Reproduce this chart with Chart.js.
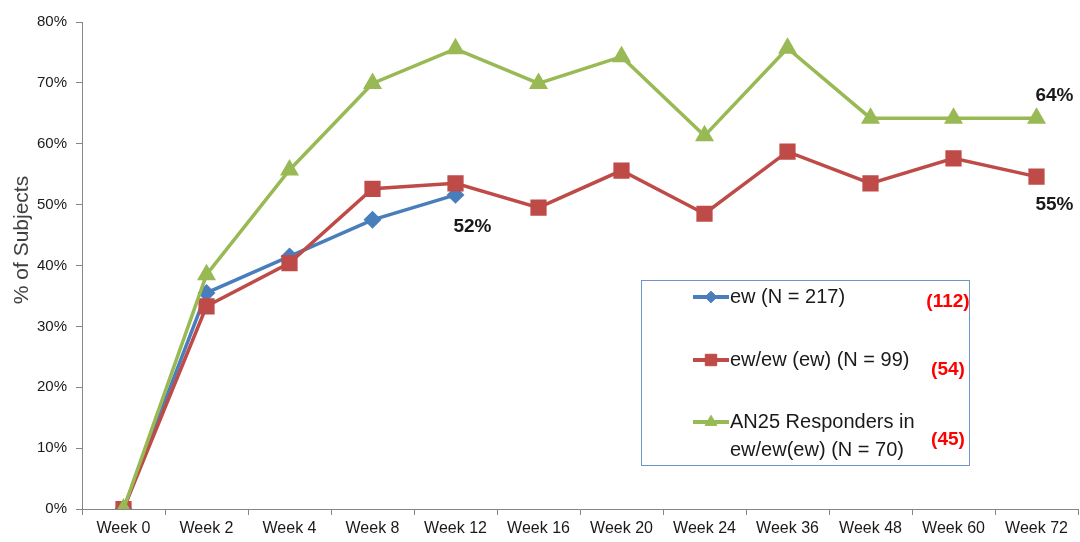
<!DOCTYPE html>
<html>
<head>
<meta charset="utf-8">
<script src="https://cdn.jsdelivr.net/npm/chart.js@4.4.0/dist/chart.umd.min.js"></script>
<style>
  html, body { margin: 0; padding: 0; background: #fff; overflow: hidden; }
  #wrap { width: 1080px; height: 542px; position: relative; }
  canvas { display: block; }
</style>
</head>
<body>
<div id="wrap"><canvas id="chart"></canvas></div>
<script>
// chart data
var weeks = ["Week 0", "Week 2", "Week 4", "Week 8", "Week 12", "Week 16", "Week 20", "Week 24", "Week 36", "Week 48", "Week 60", "Week 72"];
var ewValues = [0, 35.5, 41.5, 47.5, 51.6, null, null, null, null, null, null, null];
var ewewValues = [0, 33.3, 40.4, 52.6, 53.5, 49.5, 55.6, 48.5, 58.7, 53.5, 57.6, 54.6];
var respValues = [0, 38.5, 55.7, 69.9, 75.6, 69.9, 74.3, 61.3, 75.7, 64.2, 64.2, 64.2];
var yTicks = [0, 10, 20, 30, 40, 50, 60, 70, 80];

var legendLabels = ["ew (N = 217)", "ew/ew (ew) (N = 99)", "AN25 Responders in\new/ew(ew) (N = 70)"];
var legendCounts = ["(112)", "(54)", "(45)"];

var blue = "#4A7EBB", red = "#BE4B48", green = "#98B954";

// end-point labels drawn next to the last point of a series
var pointLabels = [
  { ds: 0, idx: 4, text: "52%", dx: 17, dy: 32 },
  { ds: 2, idx: 11, text: "64%", dx: 18, dy: -22 },
  { ds: 1, idx: 11, text: "55%", dx: 18, dy: 28 }
];

var extras = {
  id: "extras",
  afterDatasetsDraw: function (chart) {
    var ctx = chart.ctx;
    ctx.save();
    ctx.font = "bold 19px 'Liberation Sans', Arial, sans-serif";
    ctx.fillStyle = "#1a1a1a";
    ctx.textAlign = "center";
    ctx.textBaseline = "middle";
    pointLabels.forEach(function (l) {
      var p = chart.getDatasetMeta(l.ds).data[l.idx];
      ctx.fillText(l.text, p.x + l.dx, p.y + l.dy);
    });
    ctx.restore();
  },
  afterDraw: function (chart) {
    var ctx = chart.ctx;
    ctx.save();
    // y axis title
    ctx.translate(22, 240);
    ctx.rotate(-Math.PI / 2);
    ctx.font = "21px 'Liberation Sans', Arial, sans-serif";
    ctx.fillStyle = "#404040";
    ctx.textAlign = "center";
    ctx.textBaseline = "middle";
    ctx.fillText("% of Subjects", 0, 0);
    ctx.restore();

    // legend box
    ctx.save();
    ctx.strokeStyle = "#6F95C8";
    ctx.lineWidth = 1;
    ctx.strokeRect(641.5, 280.5, 328, 185);
    var rows = [297, 360, 422];
    var countY = [302, 370, 440];
    [0, 1, 2].forEach(function (i) {
      var ds = chart.data.datasets[i];
      var y = rows[i];
      ctx.strokeStyle = ds.borderColor;
      ctx.lineWidth = 4;
      ctx.beginPath();
      ctx.moveTo(693, y);
      ctx.lineTo(729, y);
      ctx.stroke();
      ctx.fillStyle = ds.backgroundColor;
      ctx.strokeStyle = ds.borderColor;
      ctx.lineWidth = 1;
      Chart.helpers.drawPoint(ctx, { pointStyle: ds.pointStyle, radius: ds.pointRadius * 0.9, borderWidth: 1 }, 711, y);
      ctx.fillStyle = "#1a1a1a";
      ctx.font = "20px 'Liberation Sans', Arial, sans-serif";
      ctx.textAlign = "left";
      ctx.textBaseline = "middle";
      legendLabels[i].split("\n").forEach(function (line, k) {
        ctx.fillText(line, 730, y + k * 28);
      });
      ctx.fillStyle = "#FF0000";
      ctx.font = "bold 19px 'Liberation Sans', Arial, sans-serif";
      ctx.textAlign = "center";
      ctx.fillText(legendCounts[i], 948, countY[i]);
    });
    ctx.restore();
  }
};

new Chart(document.getElementById("chart"), {
  type: "line",
  data: {
    labels: weeks,
    datasets: [
      {
        label: legendLabels[0],
        data: ewValues,
        borderColor: blue,
        backgroundColor: blue,
        borderWidth: 3.5,
        pointStyle: "rectRot",
        pointRadius: 6.5,
        tension: 0,
        order: 2
      },
      {
        label: legendLabels[1],
        data: ewewValues,
        borderColor: red,
        backgroundColor: red,
        borderWidth: 3.5,
        pointStyle: "rect",
        pointRadius: 9,
        tension: 0,
        order: 1
      },
      {
        label: legendLabels[2],
        data: respValues,
        borderColor: green,
        backgroundColor: green,
        borderWidth: 3.5,
        pointStyle: "triangle",
        pointRadius: 7.5,
        tension: 0,
        order: 0
      }
    ]
  },
  options: {
    responsive: true,
    maintainAspectRatio: false,
    animation: false,
    spanGaps: false,
    layout: { autoPadding: false, padding: { top: 22, right: 2, left: 0, bottom: 0 } },
    plugins: {
      legend: { display: false },
      tooltip: { enabled: false }
    },
    scales: {
      x: {
        offset: true,
        grid: { display: true, drawOnChartArea: false, offset: true, tickLength: 6, color: "#868686" },
        border: { color: "#868686", width: 1 },
        ticks: {
          color: "#1a1a1a",
          font: { family: "'Liberation Sans', Arial, sans-serif", size: 16 },
          maxRotation: 0,
          autoSkip: false,
          padding: 4
        },
        afterFit: function (s) { s.height = 33; s.paddingLeft = 0; s.paddingRight = 0; }
      },
      y: {
        min: 0,
        max: 80,
        afterBuildTicks: function (s) { s.ticks = yTicks.map(function (v) { return { value: v }; }); },
        grid: { display: true, drawOnChartArea: false, tickLength: 6, color: "#868686" },
        border: { color: "#868686", width: 1 },
        ticks: {
          color: "#1a1a1a",
          font: { family: "'Liberation Sans', Arial, sans-serif", size: 15 },
          padding: 9,
          callback: function (v) { return v + "%"; }
        },
        afterFit: function (s) { s.width = 82; }
      }
    }
  },
  plugins: [extras]
});
</script>
</body>
</html>
